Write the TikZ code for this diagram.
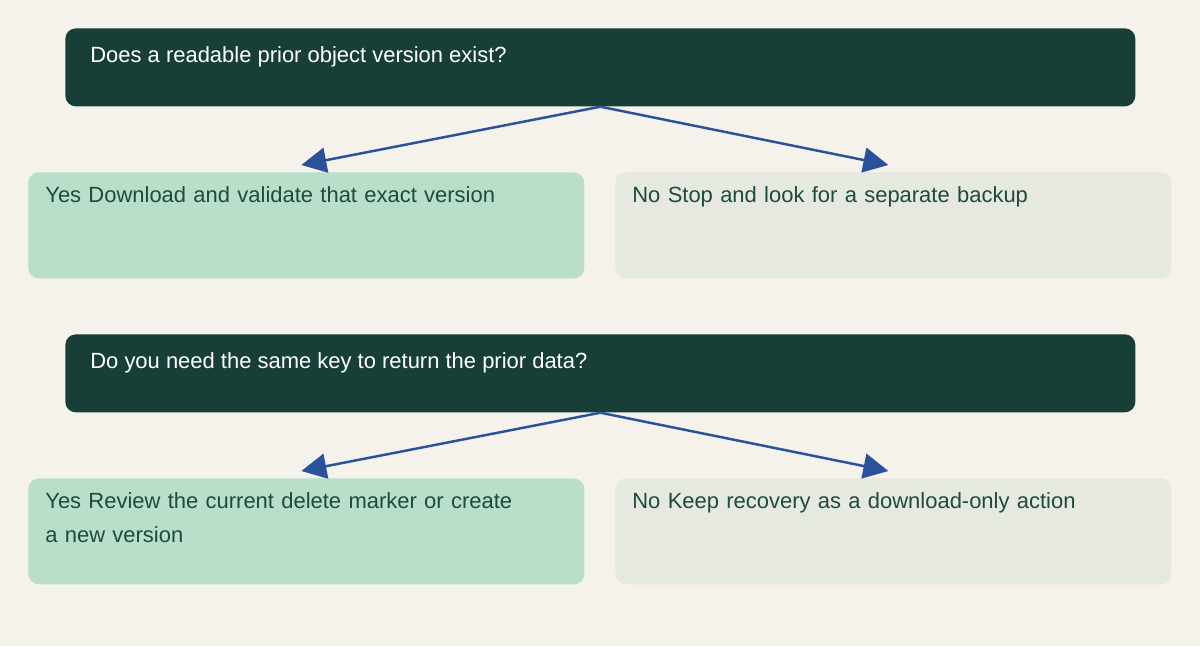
\documentclass[tikz,border=0pt]{standalone}
\usepackage{fontspec}
\setmainfont{Liberation Sans}
\usetikzlibrary{positioning, arrows.meta}
\definecolor{bgpaper}{HTML}{F4F2EA}
\definecolor{darkq}{HTML}{173F37}
\definecolor{yesfill}{HTML}{B9DFCA}
\definecolor{nofill}{HTML}{E6E9E0}
\definecolor{ansink}{HTML}{1F4A3E}
\definecolor{arrblue}{HTML}{2A529A}
\tikzset{
  question/.style={fill=darkq, rounded corners=6pt, minimum width=21.4cm, minimum height=1.56cm, anchor=north west},
  answer/.style={rounded corners=6pt, minimum width=11.12cm, minimum height=2.12cm, anchor=north west},
  qtext/.style={anchor=north west, text=white, font=\fontsize{12.5}{19.3}\selectfont, inner sep=0pt},
  atext/.style={anchor=north west, text=ansink, font=\fontsize{12.5}{19.3}\selectfont, inner sep=0pt, text width=9.6cm, align=left},
  branch/.style={draw=arrblue, line width=1.4pt, -{Triangle[length=0.5cm, width=0.5cm]}}
}
\begin{document}
\begin{tikzpicture}
\fill[bgpaper] (0,0) rectangle (24,-12.92);
\useasboundingbox (0,0) rectangle (24,-12.92);

%First question
\node (q1) [question] at (1.3,-0.56) {};
\node (q1t) [qtext] at (1.8,-0.92) {Does a readable prior object version exist?};
\node (y1) [answer, fill=yesfill] at (0.56,-3.44) {};
\node (y1t) [atext] at (0.9,-3.72) {Yes Download and validate that exact version};
\node (n1) [answer, fill=nofill] at (12.3,-3.44) {};
\node (n1t) [atext] at (12.64,-3.72) {No Stop and look for a separate backup};

%Second question
\node (q2) [question] at (1.3,-6.68) {};
\node (q2t) [qtext] at (1.8,-7.04) {Do you need the same key to return the prior data?};
\node (y2) [answer, fill=yesfill] at (0.56,-9.56) {};
\node (y2t) [atext] at (0.9,-9.84) {Yes Review the current delete marker or create a new version};
\node (n2) [answer, fill=nofill] at (12.3,-9.56) {};
\node (n2t) [atext] at (12.64,-9.84) {No Keep recovery as a download-only action};

%Links
\draw[branch] (q1.south) -- ([xshift=-0.1cm, yshift=0.14cm]y1.north);
\draw[branch] (q1.south) -- ([xshift=-0.1cm, yshift=0.14cm]n1.north);
\draw[branch] (q2.south) -- ([xshift=-0.1cm, yshift=0.14cm]y2.north);
\draw[branch] (q2.south) -- ([xshift=-0.1cm, yshift=0.14cm]n2.north);
\end{tikzpicture}
\end{document}
